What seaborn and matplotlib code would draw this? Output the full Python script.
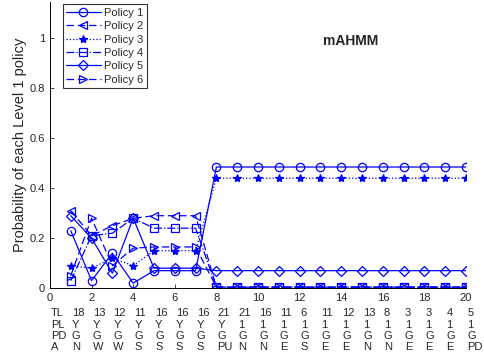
import matplotlib
matplotlib.use("Agg")
import matplotlib.pyplot as plt
import matplotlib.transforms as mtransforms
import seaborn as sns
import pandas as pd

steps = list(range(1, 21))
policy_1 = [0.23, 0.03, 0.14, 0.02, 0.07, 0.07, 0.07, 0.485, 0.485, 0.485, 0.485, 0.485, 0.485, 0.485, 0.485, 0.485, 0.485, 0.485, 0.485, 0.485]
policy_2 = [0.31, 0.21, 0.25, 0.28, 0.29, 0.29, 0.29, 0.004, 0.004, 0.004, 0.004, 0.004, 0.004, 0.004, 0.004, 0.004, 0.004, 0.004, 0.004, 0.004]
policy_3 = [0.09, 0.08, 0.12, 0.09, 0.15, 0.15, 0.15, 0.44, 0.44, 0.44, 0.44, 0.44, 0.44, 0.44, 0.44, 0.44, 0.44, 0.44, 0.44, 0.44]
policy_4 = [0.03, 0.21, 0.22, 0.28, 0.24, 0.24, 0.24, 0.004, 0.004, 0.004, 0.004, 0.004, 0.004, 0.004, 0.004, 0.004, 0.004, 0.004, 0.004, 0.004]
policy_5 = [0.29, 0.20, 0.06, 0.28, 0.08, 0.08, 0.08, 0.07, 0.07, 0.07, 0.07, 0.07, 0.07, 0.07, 0.07, 0.07, 0.07, 0.07, 0.07, 0.07]
policy_6 = [0.05, 0.28, 0.09, 0.16, 0.165, 0.165, 0.165, 0.004, 0.004, 0.004, 0.004, 0.004, 0.004, 0.004, 0.004, 0.004, 0.004, 0.004, 0.004, 0.004]

policy_names = ["Policy 1", "Policy 2", "Policy 3", "Policy 4", "Policy 5", "Policy 6"]

row_names = ["TL", "PL", "PD", "A"]
row_tl = ["18", "13", "12", "11", "16", "16", "16", "21", "21", "16", "11", "6", "11", "12", "13", "8", "3", "3", "4", "5"]
row_pl = ["Y", "Y", "Y", "Y", "Y", "Y", "Y", "Y", "1", "1", "1", "1", "1", "1", "1", "1", "1", "1", "1", "1"]
row_pd = ["G", "G", "G", "G", "G", "G", "G", "G", "G", "G", "G", "G", "G", "G", "G", "G", "G", "G", "G", "G"]
row_a = ["N", "W", "W", "S", "S", "S", "S", "PU", "N", "N", "E", "S", "E", "E", "N", "N", "E", "E", "E", "PD"]

sns.set_style("ticks")
plt.rcParams['font.family'] = ['Liberation Sans', 'DejaVu Sans']

fig = plt.figure(figsize=(4.85, 3.62), dpi=100)
ax = fig.add_axes([0.103, 0.204, 0.858, 0.79])

df = pd.DataFrame({"step": steps})
series = [policy_1, policy_2, policy_3, policy_4, policy_5, policy_6]
styles = [("-", "o"), ((0, (6, 3)), "<"), (":", "*"), ("-.", "s"), ("-", "D"), ((0, (6, 3)), ">")]

for name, vals, (ls, mk) in zip(policy_names, series, styles):
    df[name] = vals
    ms = 5 if mk == "D" else 6
    sns.lineplot(data=df, x="step", y=name, ax=ax, color="blue", linestyle=ls, linewidth=0.9,
                 marker=mk, markersize=ms, markerfacecolor="none" if mk != "*" else "blue",
                 markeredgecolor="blue", markeredgewidth=0.9, label=name)

ax.set_xlim(0, 20)
ax.set_ylim(0, 1.145)
ax.set_xticks(range(0, 21, 2))
ax.set_yticks([0, 0.2, 0.4, 0.6, 0.8, 1])
ax.set_yticklabels(["0", "0.2", "0.4", "0.6", "0.8", "1"])
ax.tick_params(direction="in", length=3, labelsize=8, width=0.6)
for s in ["top", "right"]:
    ax.spines[s].set_visible(False)
for s in ["left", "bottom"]:
    ax.spines[s].set_linewidth(0.7)
    ax.spines[s].set_color("black")
ax.set_xlabel("")
ax.set_ylabel("Probability of each Level 1 policy", fontsize=10.5, labelpad=2)

ax.text(14.45, 0.99, "mAHMM", fontsize=10, fontweight="bold", ha="center", va="center")

leg = ax.legend(loc="upper left", bbox_to_anchor=(0.025, 1.0), fontsize=8, frameon=True, fancybox=False,
                handlelength=3.1, handletextpad=0.35, labelspacing=0.3, borderpad=0.32, borderaxespad=0.2)
leg.get_frame().set_edgecolor("black")
leg.get_frame().set_linewidth(0.8)

# table of step annotations under the x axis (data x, figure y)
rows = [row_tl, row_pl, row_pd, row_a]
row_y = [313, 324.5, 336, 347.5]
trans = mtransforms.blended_transform_factory(ax.transData, fig.transFigure)
for rname, vals, py in zip(row_names, rows, row_y):
    yf = 1 - py / 362
    ax.text(0.05, yf, rname, transform=trans, fontsize=8, ha="left", va="center", clip_on=False)
    for x, v in zip(steps, vals):
        ax.text(x + 0.05, yf, v, transform=trans, fontsize=8, ha="left", va="center", clip_on=False)

fig.savefig("out.png", dpi=100)
